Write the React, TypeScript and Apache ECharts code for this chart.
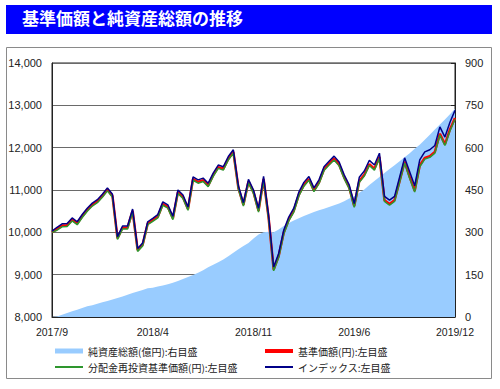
import React, { useEffect, useRef } from "react";
import * as echarts from "echarts";

const titleText = "基準価額と純資産総額の推移";
const xTickLabels = ["2017/9", "2018/4", "2018/11", "2019/6", "2019/12"];
const categories = Array.from({ length: 81 }, (_, i) => String(i));

const seriesNames = [
  "純資産総額(億円):右目盛",
  "基準価額(円):左目盛",
  "分配金再投資基準価額(円):左目盛",
  "インデックス:左目盛",
];

const netAssets = [
  0, 2, 8, 14, 20, 26, 32, 38, 42, 47,
  52, 57, 62, 67, 73, 79, 85, 90, 96, 102,
  104, 108, 112, 116, 121, 128, 135, 142, 149, 157,
  166, 176, 185, 194, 204, 215, 228, 240, 252, 262,
  278, 292, 300, 302, 300, 310, 322, 333, 342, 350,
  358, 365, 372, 378, 384, 390, 396, 402, 410, 420,
  428, 440, 452, 468, 482, 496, 510, 524, 538, 552,
  566, 580, 596, 610, 628, 646, 664, 682, 700, 718,
  738,
];

const basePrice = [
  10000, 10080, 10160, 10170, 10300, 10210, 10380, 10530, 10650, 10730,
  10860, 11010, 10860, 9860, 10110, 10110, 10510, 9580, 9710, 10210,
  10290, 10370, 10670, 10600, 10330, 10950, 10830, 10550, 11260, 11190,
  11230, 11110, 11350, 11540, 11500, 11740, 11900, 11050, 10650, 11200,
  10950, 10510, 11260, 10340, 9120, 9440, 9990, 10300, 10510, 10890,
  11120, 11260, 10990, 11180, 11490, 11620, 11740, 11600, 11300, 11060,
  10620, 11210, 11360, 11610, 11500, 11780, 10760, 10670, 10760, 11210,
  11670, 11310, 10980, 11580, 11760, 11800, 11900, 12330, 12080, 12430,
  12700,
];

const reinvestedPrice = [
  10000, 10050, 10130, 10140, 10270, 10180, 10350, 10500, 10620, 10700,
  10830, 10980, 10830, 9830, 10080, 10080, 10480, 9550, 9680, 10180,
  10260, 10340, 10640, 10570, 10300, 10920, 10800, 10520, 11230, 11160,
  11200, 11080, 11320, 11510, 11470, 11710, 11870, 11020, 10620, 11170,
  10920, 10480, 11230, 10310, 9090, 9410, 9960, 10270, 10480, 10860,
  11090, 11230, 10960, 11150, 11460, 11590, 11710, 11570, 11270, 11030,
  10590, 11180, 11330, 11580, 11470, 11750, 10730, 10640, 10730, 11180,
  11640, 11280, 10950, 11550, 11730, 11770, 11870, 12300, 12050, 12400,
  12670,
];

const indexValues = [
  10030, 10120, 10200, 10210, 10340, 10250, 10420, 10570, 10690, 10770,
  10900, 11050, 10900, 9900, 10150, 10150, 10550, 9620, 9750, 10250,
  10330, 10420, 10720, 10650, 10380, 11000, 10880, 10600, 11310, 11240,
  11280, 11160, 11400, 11590, 11550, 11790, 11950, 11100, 10700, 11250,
  11000, 10570, 11320, 10400, 9180, 9500, 10050, 10360, 10570, 10950,
  11180, 11320, 11050, 11240, 11550, 11680, 11800, 11660, 11360, 11120,
  10680, 11300, 11450, 11700, 11590, 11870, 10850, 10760, 10850, 11300,
  11760, 11430, 11100, 11710, 11900, 11950, 12050, 12490, 12250, 12600,
  12880,
];

const colors = ["#99CCFF", "#FF0000", "#2E962E", "#000088"];
const CJK = "'Noto Sans CJK JP', sans-serif";
const LAT = "'Liberation Sans', Arial, sans-serif";

export default function App() {
  const ref = useRef<HTMLDivElement>(null);
  useEffect(() => {
    if (!ref.current) return;
    const chart = echarts.init(ref.current, undefined, { renderer: "svg" });
    const legendBase = {
      orient: "horizontal",
      padding: 0,
      itemWidth: 28,
      selectedMode: false,
      textStyle: { fontSize: 10, fontFamily: CJK, color: "#222" },
    };
    chart.setOption({
      animation: false,
      backgroundColor: "#fff",
      title: {
        text: titleText,
        left: 22,
        top: 9,
        padding: 0,
        textStyle: { color: "#fff", fontSize: 17, fontWeight: "bold", fontFamily: CJK },
      },
      graphic: [
        {
          type: "rect",
          shape: { x: 6, y: 5, width: 486, height: 29 },
          style: { fill: "#0000FF" },
          z: -10,
        },
        {
          type: "rect",
          shape: { x: 6.5, y: 47.5, width: 485, height: 331 },
          style: { fill: "none", stroke: "#8a8a8a", lineWidth: 1 },
          z: -10,
        },
      ],
      legend: [
        { ...legendBase, left: 55, top: 346, itemHeight: 5, data: [{ name: seriesNames[0], icon: "rect" }] },
        { ...legendBase, left: 265, top: 346, itemHeight: 4, data: [{ name: seriesNames[1], icon: "rect" }] },
        { ...legendBase, left: 55, top: 362, itemHeight: 2, data: [{ name: seriesNames[2], icon: "rect" }] },
        { ...legendBase, left: 265, top: 362, itemHeight: 2, data: [{ name: seriesNames[3], icon: "rect" }] },
      ],
      grid: {
        left: 52,
        right: 45,
        top: 63,
        bottom: 72,
        containLabel: false,
        show: true,
        borderColor: "#222",
        borderWidth: 1,
      },
      xAxis: {
        type: "category",
        data: categories,
        boundaryGap: false,
        axisLine: { lineStyle: { color: "#222", width: 1 } },
        axisTick: { show: true, inside: true, length: 4, interval: 19, lineStyle: { color: "#222" } },
        axisLabel: {
          interval: 19,
          margin: 9,
          fontSize: 10.5,
          fontFamily: LAT,
          color: "#222",
          formatter: (_v: string, idx: number) => xTickLabels[Math.round(idx / 20)] ?? "",
        },
        splitLine: { show: false },
      },
      yAxis: [
        {
          type: "value",
          min: 8000,
          max: 14000,
          interval: 1000,
          position: "left",
          axisLine: { show: true, lineStyle: { color: "#222" } },
          axisTick: { show: false },
          axisLabel: {
            margin: 10,
            fontSize: 11,
            fontFamily: LAT,
            color: "#222",
            formatter: (v: number) => v.toLocaleString("en-US"),
          },
          splitLine: { show: true, lineStyle: { color: "#6a6a6a", width: 1 } },
        },
        {
          type: "value",
          min: 0,
          max: 900,
          interval: 150,
          position: "right",
          axisLine: { show: true, lineStyle: { color: "#222" } },
          axisTick: { show: true, inside: true, length: 4, lineStyle: { color: "#222" } },
          axisLabel: { margin: 10, fontSize: 11, fontFamily: LAT, color: "#222" },
          splitLine: { show: false },
        },
      ],
      series: [
        {
          name: seriesNames[0],
          type: "line",
          yAxisIndex: 1,
          data: netAssets,
          symbol: "none",
          lineStyle: { width: 0 },
          itemStyle: { color: colors[0] },
          areaStyle: { color: colors[0], opacity: 1 },
          z: 1,
        },
        {
          name: seriesNames[1],
          type: "line",
          data: basePrice,
          symbol: "none",
          itemStyle: { color: colors[1] },
          lineStyle: { color: colors[1], width: 2.5 },
          z: 2,
        },
        {
          name: seriesNames[2],
          type: "line",
          data: reinvestedPrice,
          symbol: "none",
          itemStyle: { color: colors[2] },
          lineStyle: { color: colors[2], width: 1.5 },
          z: 3,
        },
        {
          name: seriesNames[3],
          type: "line",
          data: indexValues,
          symbol: "none",
          itemStyle: { color: colors[3] },
          lineStyle: { color: colors[3], width: 1.5 },
          z: 4,
        },
      ],
    });
    return () => chart.dispose();
  }, []);
  return (
    <div
      ref={ref}
      style={{ position: "absolute", left: 0, top: 0, width: 500, height: 389 }}
    />
  );
}
